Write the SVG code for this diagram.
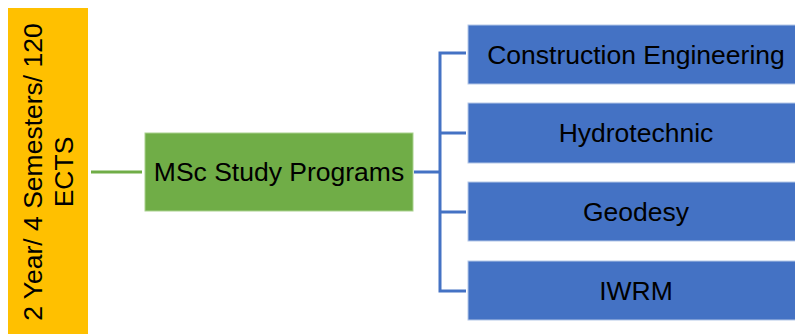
<svg xmlns="http://www.w3.org/2000/svg" width="795" height="334" viewBox="0 0 795 334">
<style>
text{font-family:"Liberation Sans",Arial,sans-serif;font-size:26.5px;fill:#000;text-anchor:middle}
.blue{fill:#4472C4;stroke:#B4C7E7;stroke-width:1}
.conn{fill:none;stroke-width:3}
</style>
<rect width="795" height="334" fill="#fff"/>
<g id="duration">
<rect x="8" y="8" width="80" height="330" fill="#FFC000"/>
<text transform="translate(42,172) rotate(-90)">2 Year/ 4 Semesters/ 120</text>
<text transform="translate(73,172) rotate(-90)">ECTS</text>
</g>
<g id="connectors">
<line class="conn" x1="91" y1="172" x2="142" y2="172" stroke="#70AD47"/>
<path class="conn" stroke="#4472C4" d="M414 172H440M466 53H440V291H466M440 133H466M440 212H466"/>
</g>
<g id="msc">
<rect x="145" y="133" width="268" height="78" fill="#70AD47" stroke="#A9D18E" stroke-width="1"/>
<text x="279" y="181">MSc Study Programs</text>
</g>
<g id="construction">
<rect class="blue" x="468" y="25" width="340" height="59"/>
<text x="636" y="64">Construction Engineering</text>
</g>
<g id="hydrotechnic">
<rect class="blue" x="468" y="103" width="340" height="60"/>
<text x="636" y="142">Hydrotechnic</text>
</g>
<g id="geodesy">
<rect class="blue" x="468" y="182" width="340" height="59"/>
<text x="636" y="221">Geodesy</text>
</g>
<g id="iwrm">
<rect class="blue" x="468" y="261" width="340" height="59"/>
<text x="636" y="300">IWRM</text>
</g>
</svg>
